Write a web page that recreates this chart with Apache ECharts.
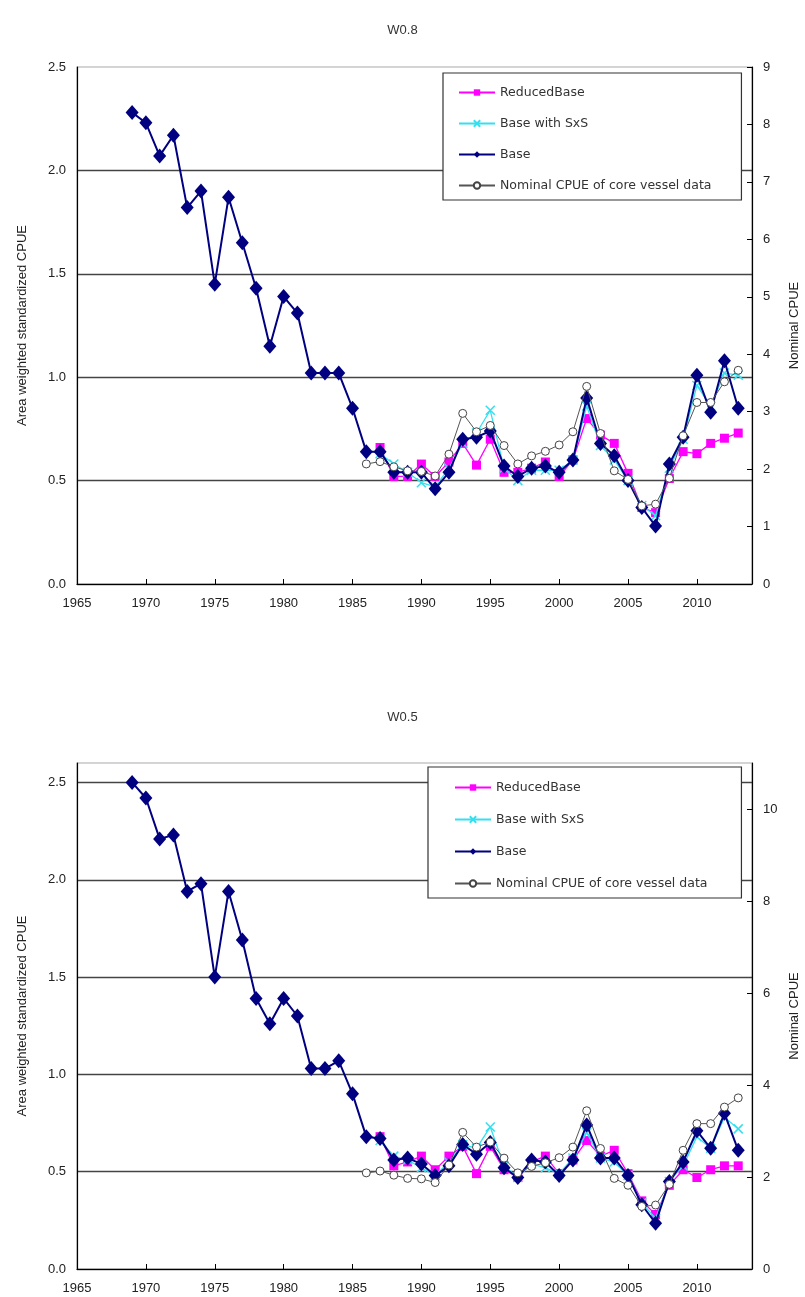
<!DOCTYPE html>
<html>
<head>
<meta charset="utf-8">
<script src="https://cdn.jsdelivr.net/npm/echarts@6/dist/echarts.min.js"></script>
<style>
  html, body { margin: 0; padding: 0; background: #fff; }
  #main { width: 805px; height: 1297px; }
</style>
</head>
<body>
<div id="main"></div>
<script>
// years covered by each series
const baseYears = [];
for (let y = 1969; y <= 2013; y++) baseYears.push(y);
const reducedYears = baseYears.filter(y => y >= 1987);
const nominalYears = baseYears.filter(y => y >= 1986);

// W0.8 panel
const baseW08 = [2.28, 2.23, 2.07, 2.17, 1.82, 1.90, 1.45, 1.87, 1.65, 1.43, 1.15, 1.39, 1.31, 1.02, 1.02, 1.02, 0.85,
  0.64, 0.64, 0.54, 0.54, 0.54, 0.46, 0.54, 0.70, 0.71, 0.74, 0.57, 0.52, 0.56, 0.57, 0.54, 0.60, 0.90, 0.68, 0.62, 0.50, 0.37, 0.28, 0.58, 0.71, 1.01, 0.83, 1.08, 0.85];
const reducedW08 = [0.66, 0.52, 0.52, 0.58, 0.52, 0.59, 0.68, 0.575, 0.70, 0.54, 0.54, 0.56, 0.59, 0.52, 0.60, 0.80, 0.72, 0.68, 0.535, 0.37, 0.345, 0.51, 0.64, 0.63, 0.68, 0.705, 0.73];
const sxsW08 = [0.63, 0.58, 0.54, 0.49, 0.47, 0.56, 0.68, 0.73, 0.84, 0.56, 0.50, 0.55, 0.55, 0.55, 0.60, 0.86, 0.67, 0.60, 0.50, 0.38, 0.33, 0.56, 0.70, 0.96, 0.86, 1.02, 1.01];

// W0.5 panel
const baseW05 = [2.50, 2.42, 2.21, 2.23, 1.94, 1.98, 1.50, 1.94, 1.69, 1.39, 1.26, 1.39, 1.30, 1.03, 1.03, 1.07, 0.90,
  0.68, 0.67, 0.56, 0.57, 0.54, 0.48, 0.53, 0.64, 0.59, 0.65, 0.52, 0.47, 0.56, 0.55, 0.48, 0.56, 0.74, 0.57, 0.57, 0.48, 0.33, 0.235, 0.45, 0.55, 0.71, 0.62, 0.80, 0.61];
const reducedW05 = [0.68, 0.53, 0.55, 0.58, 0.51, 0.58, 0.63, 0.49, 0.63, 0.51, 0.47, 0.55, 0.58, 0.49, 0.56, 0.66, 0.58, 0.61, 0.49, 0.35, 0.28, 0.43, 0.51, 0.47, 0.51, 0.53, 0.53];
const sxsW05 = [0.66, 0.58, 0.56, 0.52, 0.48, 0.55, 0.64, 0.62, 0.73, 0.53, 0.47, 0.54, 0.52, 0.49, 0.57, 0.70, 0.57, 0.55, 0.48, 0.34, 0.26, 0.45, 0.53, 0.68, 0.62, 0.78, 0.72];

// nominal CPUE of core vessel data (same in both panels, right axis)
const nominal = [2.09, 2.13, 2.04, 1.97, 1.96, 1.88, 2.26, 2.97, 2.65, 2.76, 2.41, 2.09, 2.23, 2.31, 2.42, 2.65, 3.44, 2.62, 1.97, 1.82, 1.36, 1.39, 1.84, 2.58, 3.16, 3.16, 3.52, 3.72];

const panelTitles = ['W0.8', 'W0.5'];
const seriesNames = ['ReducedBase', 'Base with SxS', 'Base', 'Nominal CPUE of core vessel data'];

const pair = (years, vals) => years.map((y, i) => [y, vals[i]]);

const FONT = "'Liberation Sans', Arial, sans-serif";
const XMARK = 'path://M0,0L10,10M10,0L0,10';

function xAxisFor(gi) {
  return {
    gridIndex: gi, type: 'value', min: 1965, max: 2014, interval: 5,
    axisLine: { show: true, onZero: false, lineStyle: { color: '#000', width: 1.2 } },
    axisTick: { show: true, inside: true, length: 5, lineStyle: { color: '#000' } },
    axisLabel: { showMaxLabel: false, color: '#222', fontFamily: FONT, fontSize: 13, margin: 13,
      formatter: v => String(v) },
    splitLine: { show: false }
  };
}
function leftAxisFor(gi, max) {
  return {
    gridIndex: gi, type: 'value', position: 'left', min: 0, max: max, interval: 0.5,
    name: 'Area weighted standardized CPUE', nameLocation: 'middle', nameGap: 48, nameRotate: 90,
    nameTextStyle: { color: '#222', fontFamily: FONT, fontSize: 13 },
    axisLine: { show: true, lineStyle: { color: '#000', width: 1.2 } },
    axisTick: { show: false },
    axisLabel: { showMaxLabel: max === 2.5, color: '#222', fontFamily: FONT, fontSize: 13, margin: 11,
      formatter: v => v.toFixed(1) },
    splitLine: { show: true, showMaxLine: false, lineStyle: { color: '#444', width: 1.4 } }
  };
}
function rightAxisFor(gi, max, step) {
  return {
    gridIndex: gi, type: 'value', position: 'right', min: 0, max: max, interval: step,
    name: 'Nominal CPUE', nameLocation: 'middle', nameGap: 36, nameRotate: 90,
    nameTextStyle: { color: '#222', fontFamily: FONT, fontSize: 13 },
    axisLine: { show: true, lineStyle: { color: '#000', width: 1.2 } },
    axisTick: { show: true, inside: true, length: 5, lineStyle: { color: '#000' } },
    axisLabel: { showMaxLabel: max % step === 0, color: '#222', fontFamily: FONT, fontSize: 13, margin: 11 },
    splitLine: { show: false }
  };
}

function seriesFor(gi, reduced, sxs, base) {
  const xi = gi, yl = gi * 2, yr = gi * 2 + 1;
  return [
    { name: seriesNames[0], type: 'line', xAxisIndex: xi, yAxisIndex: yl, data: pair(reducedYears, reduced),
      symbol: 'rect', symbolSize: 9, z: 2,
      lineStyle: { color: '#ff00ff', width: 1.3 }, itemStyle: { color: '#ff00ff' } },
    { name: seriesNames[1], type: 'line', xAxisIndex: xi, yAxisIndex: yl, data: pair(reducedYears, sxs),
      symbol: XMARK, symbolSize: 9, z: 3,
      lineStyle: { color: '#33e0f0', width: 1.3 },
      itemStyle: { color: '#33e0f0', borderColor: '#33e0f0', borderWidth: 1.5 } },
    { name: seriesNames[2], type: 'line', xAxisIndex: xi, yAxisIndex: yl, data: pair(baseYears, base),
      symbol: 'diamond', symbolSize: [13, 15], z: 4,
      lineStyle: { color: '#000080', width: 2 }, itemStyle: { color: '#000080' } },
    { name: seriesNames[3], type: 'line', xAxisIndex: xi, yAxisIndex: yr, data: pair(nominalYears, nominal),
      symbol: 'circle', symbolSize: 8, z: 5,
      lineStyle: { color: '#555', width: 1 },
      itemStyle: { color: '#fff', borderColor: '#444', borderWidth: 1 } }
  ];
}

function legendFor(left, top, gap, padding) {
  return {
    orient: 'vertical', left: left, top: top, data: seriesNames,
    itemWidth: 36, itemHeight: 8, itemGap: gap, padding: padding,
    backgroundColor: '#fff', borderColor: '#333', borderWidth: 1.2,
    textStyle: { color: '#333', fontFamily: "'DejaVu Sans', sans-serif", fontSize: 12.5 },
    selectedMode: false
  };
}

const chart = echarts.init(document.getElementById('main'));
chart.setOption({
  animation: false,
  backgroundColor: '#fff',
  title: [
    { text: panelTitles[0], left: 'center', top: 19, textStyle: { color: '#333', fontFamily: FONT, fontSize: 13, fontWeight: 'normal' } },
    { text: panelTitles[1], left: 'center', top: 706, textStyle: { color: '#333', fontFamily: FONT, fontSize: 13, fontWeight: 'normal' } }
  ],
  grid: [
    { left: 77, top: 67, width: 675, height: 517, outerBoundsMode: 'none', show: true, borderColor: '#aaa', borderWidth: 1.2, backgroundColor: 'transparent' },
    { left: 77, top: 763, width: 675, height: 506, outerBoundsMode: 'none', show: true, borderColor: '#aaa', borderWidth: 1.2, backgroundColor: 'transparent' }
  ],
  legend: [
    legendFor(443, 73, 18, [13, 30, 8, 15]),
    legendFor(428, 767, 19, [14, 34, 8, 26])
  ],
  xAxis: [xAxisFor(0), xAxisFor(1)],
  yAxis: [leftAxisFor(0, 2.5), rightAxisFor(0, 9, 1), leftAxisFor(1, 2.6), rightAxisFor(1, 11, 2)],
  series: [].concat(
    seriesFor(0, reducedW08, sxsW08, baseW08),
    seriesFor(1, reducedW05, sxsW05, baseW05)
  )
});
</script>
</body>
</html>
